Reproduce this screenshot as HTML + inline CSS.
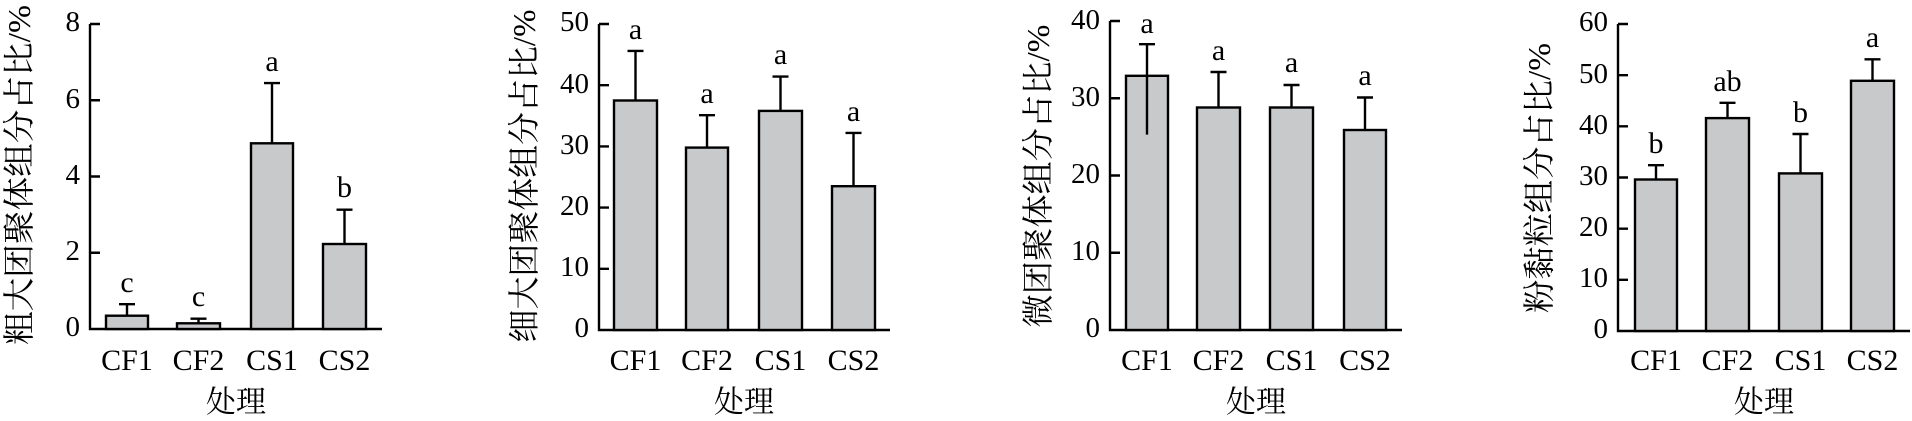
<!DOCTYPE html>
<html><head><meta charset="utf-8"><style>
html,body{margin:0;padding:0;background:#fff;}
svg{display:block;}
text{font-family:"Liberation Serif","Noto Serif CJK SC",serif;fill:#000;}
.t{font-size:29px;text-anchor:end;dominant-baseline:central;}
.c{font-size:30px;text-anchor:middle;}
.l{font-size:30px;text-anchor:middle;}
.x{font-size:30px;text-anchor:middle;}
.y{font-size:32px;text-anchor:middle;}
rect{fill:#c8c9cb;stroke:#000;stroke-width:2.4;}
line,path{stroke:#000;stroke-width:2.4;fill:none;}
</style></head><body>
<svg width="1912" height="421" viewBox="0 0 1912 421" xmlns="http://www.w3.org/2000/svg">
<!-- Chart 1 -->
<g>
<text class="y" transform="translate(30,175) rotate(-90)" textLength="340" lengthAdjust="spacingAndGlyphs">粗大团聚体组分占比/%</text>
<path d="M90,24 V329 H382"/>
<path d="M90,24 h10 M90,100.25 h10 M90,176.5 h10 M90,252.75 h10"/>
<text class="t" x="80" y="22">8</text><text class="t" x="80" y="99">6</text><text class="t" x="80" y="175">4</text><text class="t" x="80" y="251">2</text><text class="t" x="80" y="327">0</text>
<rect x="106" y="315.7" width="42" height="13.3"/><path d="M127,315.7 V304.2 M119,304.2 h16"/><text class="l" x="127" y="292">c</text>
<rect x="177" y="323.3" width="43" height="5.7"/><path d="M198.5,323.3 V318.7 M190.5,318.7 h16"/><text class="l" x="198.5" y="306">c</text>
<rect x="251" y="143.3" width="42" height="185.7"/><path d="M272,143.3 V83.1 M264,83.1 h16"/><text class="l" x="272" y="71">a</text>
<rect x="323" y="244" width="43" height="85"/><path d="M344.5,244 V209.7 M336.5,209.7 h16"/><text class="l" x="344.5" y="197">b</text>
<text class="c" x="127" y="370">CF1</text><text class="c" x="198.5" y="370">CF2</text><text class="c" x="272" y="370">CS1</text><text class="c" x="344.5" y="370">CS2</text>
<text class="x" x="236" y="412">处理</text>
</g>
<!-- Chart 2 -->
<g>
<text class="y" transform="translate(535,176) rotate(-90)" textLength="333" lengthAdjust="spacingAndGlyphs">细大团聚体组分占比/%</text>
<path d="M599,24 V330 H890"/>
<path d="M599,24 h10 M599,85.2 h10 M599,146.4 h10 M599,207.6 h10 M599,268.8 h10"/>
<text class="t" x="589" y="22">50</text><text class="t" x="589" y="84">40</text><text class="t" x="589" y="145">30</text><text class="t" x="589" y="206">20</text><text class="t" x="589" y="267">10</text><text class="t" x="589" y="328">0</text>
<rect x="614" y="100.5" width="43" height="229.5"/><path d="M635.5,100.5 V50.9 M627.5,50.9 h16"/><text class="l" x="635.5" y="39">a</text>
<rect x="686" y="147.6" width="42" height="182.4"/><path d="M707,147.6 V115.2 M699,115.2 h16"/><text class="l" x="707" y="103">a</text>
<rect x="759" y="110.9" width="43" height="219.1"/><path d="M780.5,110.9 V76.6 M772.5,76.6 h16"/><text class="l" x="780.5" y="64">a</text>
<rect x="832" y="186.2" width="43" height="143.8"/><path d="M853.5,186.2 V132.9 M845.5,132.9 h16"/><text class="l" x="853.5" y="121">a</text>
<text class="c" x="635.5" y="370">CF1</text><text class="c" x="707" y="370">CF2</text><text class="c" x="780.5" y="370">CS1</text><text class="c" x="853.5" y="370">CS2</text>
<text class="x" x="744" y="412">处理</text>
</g>
<!-- Chart 3 -->
<g>
<text class="y" transform="translate(1049,176) rotate(-90)" textLength="303" lengthAdjust="spacingAndGlyphs">微团聚体组分占比/%</text>
<path d="M1110,21 V330 H1402"/>
<path d="M1110,21 h10 M1110,98.25 h10 M1110,175.5 h10 M1110,252.75 h10"/>
<text class="t" x="1100" y="20">40</text><text class="t" x="1100" y="97">30</text><text class="t" x="1100" y="174">20</text><text class="t" x="1100" y="251">10</text><text class="t" x="1100" y="328">0</text>
<rect x="1126" y="75.8" width="42" height="254.2"/><path d="M1147,134.6 V44.2 M1139,44.2 h16"/><text class="l" x="1147" y="33">a</text>
<rect x="1197" y="107.5" width="43" height="222.5"/><path d="M1218.5,107.5 V72 M1210.5,72 h16"/><text class="l" x="1218.5" y="60">a</text>
<rect x="1270" y="107.5" width="43" height="222.5"/><path d="M1291.5,107.5 V85 M1283.5,85 h16"/><text class="l" x="1291.5" y="72">a</text>
<rect x="1344" y="130" width="42" height="200"/><path d="M1365,130 V97.5 M1357,97.5 h16"/><text class="l" x="1365" y="85">a</text>
<text class="c" x="1147" y="370">CF1</text><text class="c" x="1218.5" y="370">CF2</text><text class="c" x="1291.5" y="370">CS1</text><text class="c" x="1365" y="370">CS2</text>
<text class="x" x="1256" y="412">处理</text>
</g>
<!-- Chart 4 -->
<g>
<text class="y" transform="translate(1550,178) rotate(-90)" textLength="270" lengthAdjust="spacingAndGlyphs">粉黏粒组分占比/%</text>
<path d="M1618,24 V331 H1910"/>
<path d="M1618,24 h10 M1618,75.2 h10 M1618,126.3 h10 M1618,177.5 h10 M1618,228.7 h10 M1618,279.8 h10"/>
<text class="t" x="1608" y="22">60</text><text class="t" x="1608" y="74">50</text><text class="t" x="1608" y="125">40</text><text class="t" x="1608" y="176">30</text><text class="t" x="1608" y="227">20</text><text class="t" x="1608" y="278">10</text><text class="t" x="1608" y="329">0</text>
<rect x="1635" y="179.5" width="42" height="151.5"/><path d="M1656,179.5 V165.2 M1648,165.2 h16"/><text class="l" x="1656" y="153">b</text>
<rect x="1706" y="118.1" width="43" height="212.9"/><path d="M1727.5,118.1 V102.8 M1719.5,102.8 h16"/><text class="l" x="1727.5" y="91">ab</text>
<rect x="1779" y="173.4" width="43" height="157.6"/><path d="M1800.5,173.4 V134 M1792.5,134 h16"/><text class="l" x="1800.5" y="122">b</text>
<rect x="1851" y="80.8" width="43" height="250.2"/><path d="M1872.5,80.8 V59.3 M1864.5,59.3 h16"/><text class="l" x="1872.5" y="47">a</text>
<text class="c" x="1656" y="370">CF1</text><text class="c" x="1727.5" y="370">CF2</text><text class="c" x="1800.5" y="370">CS1</text><text class="c" x="1872.5" y="370">CS2</text>
<text class="x" x="1764" y="412">处理</text>
</g>
</svg>
</body></html>
